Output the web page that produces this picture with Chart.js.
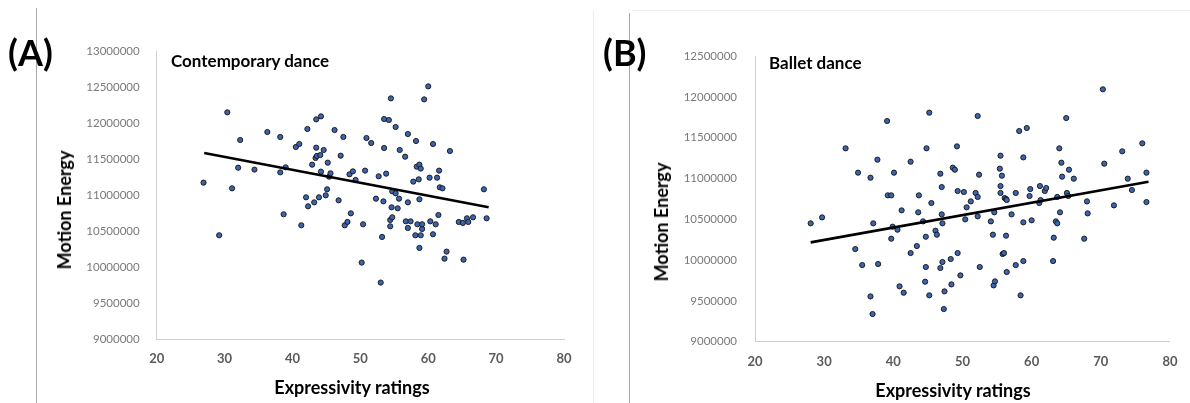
<!DOCTYPE html>
<html><head><meta charset="utf-8">
<script src="https://cdn.jsdelivr.net/npm/chart.js@4/dist/chart.umd.min.js"></script>
<style>
html,body{margin:0;padding:0;background:#fff;}
#wrap{position:relative;width:1190px;height:403px;overflow:hidden;font-family:Lato,'Open Sans',sans-serif;}
canvas{position:absolute;top:0;}
.t{position:absolute;white-space:nowrap;line-height:1;color:#000;font-weight:bold;}
.ln{position:absolute;}
</style></head><body>
<div id="wrap">
  <div class="ln" style="left:36px;top:8px;width:1px;height:395px;background:#a8a8a8"></div>
  <div class="ln" style="left:593px;top:10px;width:1px;height:393px;background:#ececec"></div>
  <div class="ln" style="left:633px;top:10px;width:557px;height:1px;background:#ececec"></div>
  <div class="ln" style="left:629px;top:13px;width:1px;height:390px;background:#a8a8a8"></div>
  <canvas id="cA" width="595" height="403" style="left:0"></canvas>
  <canvas id="cB" width="595" height="403" style="left:595px"></canvas>
  <div class="t" style="left:8px;top:52px;transform:translateY(-50%);font-size:36px">(A)</div>
  <div class="t" style="left:603px;top:52px;transform:translateY(-50%);font-size:36px">(B)</div>
  <div class="t" style="left:171px;top:60px;transform:translateY(-50%);font-size:17px">Contemporary dance</div>
  <div class="t" style="left:769px;top:62px;transform:translateY(-50%);font-size:17px">Ballet dance</div>
  <div class="t" style="left:352px;top:387px;transform:translate(-50%,-50%);font-size:18px">Expressivity ratings</div>
  <div class="t" style="left:953px;top:390px;transform:translate(-50%,-50%);font-size:18px">Expressivity ratings</div>
  <div class="t" style="left:64px;top:210px;transform:translate(-50%,-50%) rotate(-90deg);font-size:18px">Motion Energy</div>
  <div class="t" style="left:661px;top:222px;transform:translate(-50%,-50%) rotate(-90deg);font-size:18px">Motion Energy</div>
</div>
<script>
// ---- Data: (A) Contemporary dance ----
const contempX = [26.9,29.2,30.4,31.1,32.0,32.3,34.4,36.3,38.2,38.2,38.7,39.0,40.5,41.0,41.3,42.0,42.2,42.3,42.9,43.2,
  43.4,43.5,43.5,43.6,43.9,44.1,44.2,44.2,44.6,44.9,45.1,45.2,45.4,45.6,46.2,46.8,47.1,47.5,47.7,48.1,
  48.4,48.6,48.9,49.3,50.2,50.4,50.7,50.9,51.6,52.3,52.7,53.0,53.2,53.4,53.5,53.5,53.8,54.2,54.4,54.4,
  54.5,54.6,54.7,54.7,55.2,55.2,55.5,55.7,55.8,56.6,56.7,57.0,57.0,57.0,57.4,57.8,58.1,58.2,58.3,58.4,
  58.6,58.7,58.7,58.7,58.9,58.9,59.1,59.1,59.4,60.0,60.2,60.3,60.7,60.7,61.1,61.3,61.5,61.6,61.7,62.1,
  62.4,62.7,63.2,64.5,65.1,65.2,65.7,65.9,66.6,68.2,68.6];
const contempY = [11179000,10447000,12157000,11100000,11387000,11772000,11360000,11883000,11814000,11322000,
  10739000,11392000,11675000,11716000,10586000,10975000,11925000,10850000,11429000,10905000,
  11522000,12059000,11665000,11550000,10975000,11563000,12101000,11332000,11633000,11003000,
  11086000,11457000,11262000,11309000,11911000,10933000,11554000,11814000,10586000,10632000,
  11295000,10752000,11336000,11216000,10067000,10600000,11346000,11800000,11730000,10956000,
  11267000,9789000,10424000,10919000,11661000,12064000,11304000,12050000,10572000,10660000,
  12351000,10836000,11058000,10697000,11953000,11030000,10822000,10956000,11633000,11540000,
  10641000,10905000,10549000,11855000,10641000,11193000,10447000,11758000,11401000,10600000,
  11225000,11429000,10947000,10271000,11374000,10447000,10535000,10600000,12337000,12518000,
  11248000,10641000,11716000,10461000,10600000,11248000,10729000,11346000,11114000,11100000,
  10122000,10220000,11619000,10632000,10618000,10108000,10683000,10632000,10697000,11086000,10683000];
const contempTrendX = [27.0, 68.9];
const contempTrendY = [11591000, 10836000];

// ---- Data: (B) Ballet dance ----
const balletX = [28.05,29.7,33.1,34.5,34.9,35.5,36.7,36.7,37.0,37.1,37.7,37.8,39.1,39.2,39.7,39.7,39.9,40.1,40.6,40.9,
  41.2,41.5,42.5,42.5,43.4,43.6,43.7,44.3,44.6,44.7,44.7,44.8,45.2,45.2,45.5,46.1,46.3,46.8,46.8,47.0,
  47.0,47.1,47.1,47.3,47.4,48.3,48.4,48.6,48.9,49.2,49.3,49.3,49.7,50.2,50.4,50.6,51.2,51.9,52.2,52.2,
  52.2,52.4,52.5,54.1,54.4,54.5,54.6,54.7,55.4,55.5,55.5,55.5,55.7,55.8,56.0,56.1,56.3,56.3,56.4,56.4,
  57.1,57.7,57.7,58.2,58.4,58.8,58.8,58.8,59.3,59.7,59.8,60.0,61.1,61.2,61.3,61.9,62.1,63.1,63.2,63.5,
  63.7,63.7,64.0,64.1,64.3,64.4,65.0,65.1,65.3,65.4,66.1,67.6,68.0,68.1,70.3,70.5,71.9,73.1,73.9,74.5,
  76.0,76.6,76.6];
const balletY = [10450000,10523000,11369000,10135000,11071000,9939000,11009000,9555000,9339000,10450000,
  11230000,9952000,11704000,10793000,10793000,10262000,10409000,11071000,10372000,9678000,
  10609000,9600000,10086000,11205000,10172000,10585000,10793000,10474000,9735000,10286000,
  9915000,11369000,11806000,9568000,10699000,10360000,10311000,9903000,11058000,10895000,
  10560000,9976000,10450000,9400000,9617000,10013000,9702000,11132000,11107000,11393000,
  10086000,10846000,9813000,10834000,10499000,10646000,10719000,10822000,10773000,11765000,
  10536000,11046000,9915000,10474000,10311000,9690000,10585000,9739000,11120000,11279000,
  10907000,10822000,11034000,10074000,10086000,10760000,10748000,10299000,10736000,9854000,
  10560000,10822000,9939000,11581000,9568000,11258000,10462000,9988000,11618000,10785000,
  10870000,10487000,10699000,10907000,10736000,10846000,10883000,9988000,10274000,10474000,
  10450000,10773000,11369000,10585000,11193000,11022000,11740000,10822000,10785000,11107000,
  10997000,10262000,10719000,10572000,12092000,11181000,10670000,11332000,10997000,10858000,
  11430000,11071000,10711000];
const balletTrendX = [28.05, 76.9];
const balletTrendY = [10217000, 10960000];

// ---- Tick values ----
const xTicks = [20, 30, 40, 50, 60, 70, 80];
const yTicksA = [9000000, 9500000, 10000000, 10500000, 11000000, 11500000, 12000000, 12500000, 13000000];
const yTicksB = [9000000, 9500000, 10000000, 10500000, 11000000, 11500000, 12000000, 12500000];

const FONT = "Lato, 'Open Sans', sans-serif";

function pts(xs, ys) { return xs.map((x, i) => ({ x: x, y: ys[i] })); }

function makeChart(id, xs, ys, tx, ty, yTicks, lay) {
  return new Chart(document.getElementById(id), {
    type: 'scatter',
    data: {
      datasets: [
        {
          type: 'line', data: pts(tx, ty), showLine: true, borderColor: '#000', borderWidth: 2.6,
          pointRadius: 0, fill: false, tension: 0
        },
        {
          data: pts(xs, ys), pointRadius: 2.6, pointHoverRadius: 2.6,
          backgroundColor: '#3b64ad', borderColor: '#141414', borderWidth: 0.9
        }
      ]
    },
    options: {
      responsive: false, animation: false, devicePixelRatio: 1,
      events: [],
      layout: { padding: { left: 0, top: lay.top, right: lay.right, bottom: 0 } },
      plugins: { legend: { display: false }, tooltip: { enabled: false }, title: { display: false } },
      scales: {
        x: {
          type: 'linear', min: xTicks[0], max: xTicks[xTicks.length - 1],
          afterBuildTicks: s => { s.ticks = xTicks.map(v => ({ value: v })); },
          afterFit: s => { s.height = lay.xh; },
          grid: { display: false, drawTicks: false },
          border: { display: true, color: '#cfcfcf', width: 1 },
          ticks: { padding: lay.xpad, color: '#5a5a5a', font: { family: FONT, size: 13, weight: 'bold' },
                   callback: v => String(v) }
        },
        y: {
          type: 'linear', min: yTicks[0], max: yTicks[yTicks.length - 1],
          afterBuildTicks: s => { s.ticks = yTicks.map(v => ({ value: v })); },
          afterFit: s => { s.width = lay.yw; },
          grid: { display: false, drawTicks: false },
          border: { display: true, color: '#cfcfcf', width: 1 },
          ticks: { padding: lay.ypad, color: '#7a7a7a', font: { family: FONT, size: 11.5 },
                   callback: v => String(v) }
        }
      }
    }
  });
}

makeChart('cA', contempX, contempY, contempTrendX, contempTrendY, yTicksA,
  { top: 51.7, right: 31, xh: 63.7, yw: 156.7, xpad: 12, ypad: 17 });
makeChart('cB', balletX, balletY, balletTrendX, balletTrendY, yTicksB,
  { top: 56, right: 20, xh: 61.3, yw: 160, xpad: 12.5, ypad: 18 });
</script>
</body></html>
